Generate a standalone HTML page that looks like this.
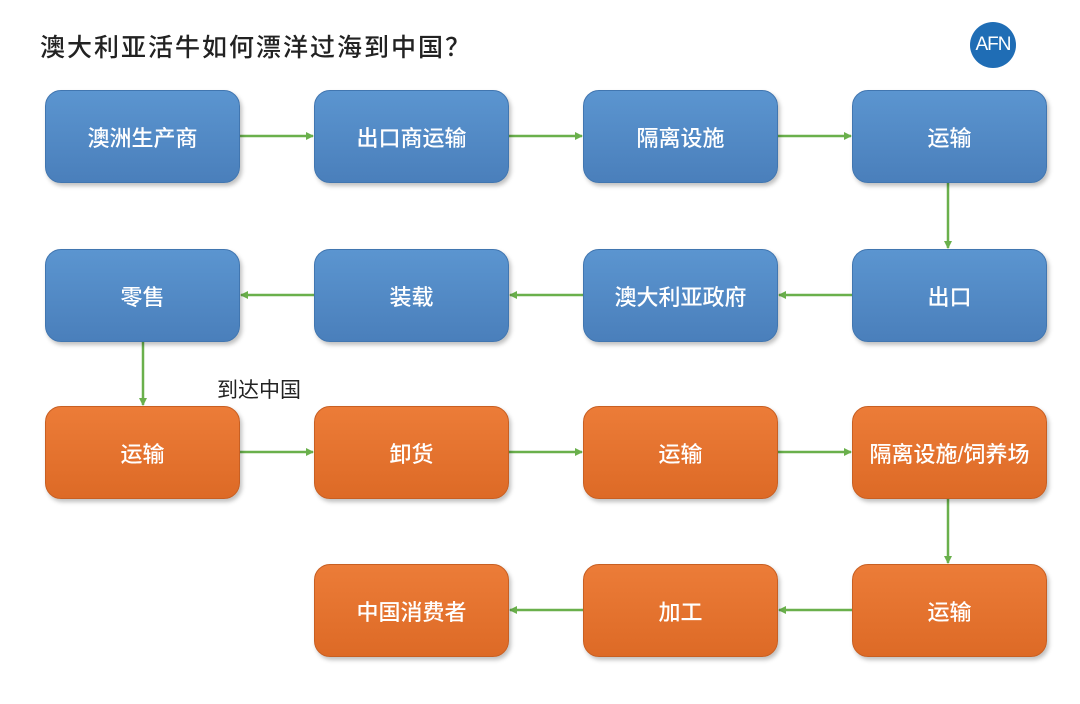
<!DOCTYPE html>
<html><head><meta charset="utf-8"><style>
body{margin:0;width:1080px;height:704px;background:#fff;position:relative;overflow:hidden;font-family:"Liberation Sans","Noto Sans CJK SC",sans-serif}
.b{position:absolute;box-sizing:border-box;width:195px;height:93px;border-radius:16px;color:#fff;font-size:22px;font-weight:500;display:flex;align-items:center;justify-content:center;box-shadow:2px 3px 4px rgba(0,0,0,.25)}
.bl{background:linear-gradient(#5b95d0,#4a7fbb);border:1px solid #4176b0}
.or{background:linear-gradient(#ec7c38,#dd6a26);border:1px solid #c85f22}
.t{position:absolute;left:40px;top:28px;font-size:25px;color:#222;letter-spacing:2px;font-weight:500}
</style></head><body>
<div class="t">澳大利亚活牛如何漂洋过海到中国？</div>
<div style="position:absolute;left:970px;top:22px;width:46px;height:46px;border-radius:50%;background:#1f6db5;color:#fff;font-size:19px;display:flex;align-items:center;justify-content:center;letter-spacing:-1px">AFN</div>
<svg style="position:absolute;left:0;top:0" width="1080" height="704">
<defs><marker id="a" markerWidth="8" markerHeight="8" refX="7" refY="4" orient="auto" markerUnits="userSpaceOnUse"><path d="M0,0L8,4L0,8z" fill="#6ab04c"/></marker></defs>
<g stroke="#6ab04c" stroke-width="2.5" fill="none" marker-end="url(#a)">
<line x1="240" y1="136" x2="313" y2="136"/>
<line x1="509" y1="136" x2="582" y2="136"/>
<line x1="778" y1="136" x2="851" y2="136"/>
<line x1="948" y1="183" x2="948" y2="248"/>
<line x1="852" y1="295" x2="779" y2="295"/>
<line x1="583" y1="295" x2="510" y2="295"/>
<line x1="314" y1="295" x2="241" y2="295"/>
<line x1="143" y1="341" x2="143" y2="405"/>
<line x1="240" y1="452" x2="313" y2="452"/>
<line x1="509" y1="452" x2="582" y2="452"/>
<line x1="778" y1="452" x2="851" y2="452"/>
<line x1="948" y1="499" x2="948" y2="563"/>
<line x1="852" y1="610" x2="779" y2="610"/>
<line x1="583" y1="610" x2="510" y2="610"/>
</g></svg>
<div class="b bl" style="left:45px;top:90px">澳洲生产商</div>
<div class="b bl" style="left:314px;top:90px">出口商运输</div>
<div class="b bl" style="left:583px;top:90px">隔离设施</div>
<div class="b bl" style="left:852px;top:90px">运输</div>
<div class="b bl" style="left:45px;top:249px">零售</div>
<div class="b bl" style="left:314px;top:249px">装载</div>
<div class="b bl" style="left:583px;top:249px">澳大利亚政府</div>
<div class="b bl" style="left:852px;top:249px">出口</div>
<div style="position:absolute;left:217px;top:374px;font-size:21px;color:#222">到达中国</div>
<div class="b or" style="left:45px;top:406px">运输</div>
<div class="b or" style="left:314px;top:406px">卸货</div>
<div class="b or" style="left:583px;top:406px">运输</div>
<div class="b or" style="left:852px;top:406px">隔离设施/饲养场</div>
<div class="b or" style="left:314px;top:564px">中国消费者</div>
<div class="b or" style="left:583px;top:564px">加工</div>
<div class="b or" style="left:852px;top:564px">运输</div>
</body></html>
